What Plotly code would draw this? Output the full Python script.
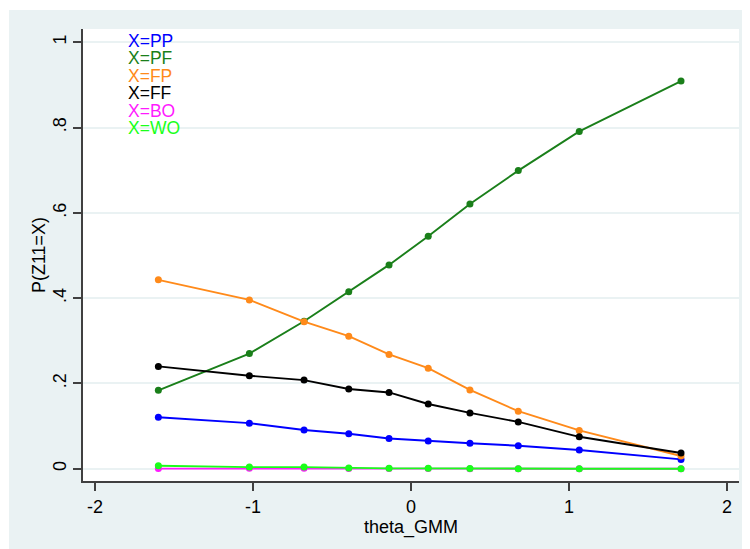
import plotly.graph_objects as go

theta = [-1.599, -1.023, -0.677, -0.394, -0.139, 0.109, 0.373, 0.679, 1.065, 1.709]
p_PP = [0.121, 0.107, 0.091, 0.082, 0.071, 0.065, 0.060, 0.054, 0.044, 0.022]
p_PF = [0.184, 0.270, 0.346, 0.415, 0.478, 0.545, 0.621, 0.699, 0.791, 0.909]
p_FP = [0.443, 0.396, 0.345, 0.311, 0.268, 0.236, 0.185, 0.135, 0.090, 0.030]
p_FF = [0.240, 0.218, 0.208, 0.187, 0.179, 0.152, 0.131, 0.110, 0.075, 0.037]
p_BO = [0.0005, 0.001, 0.001, 0.0005, 0.0005, 0.0005, 0.0003, 0.0002, 0.0001, 0.0001]
p_WO = [0.007, 0.004, 0.004, 0.002, 0.001, 0.001, 0.0005, 0.0003, 0.0002, 0.0001]

series_names = ["X=PP", "X=PF", "X=FP", "X=FF", "X=BO", "X=WO"]
series_vals = [p_PP, p_PF, p_FP, p_FF, p_BO, p_WO]
colors = ["#0000FF", "#1A7F1A", "#FF8A1A", "#000000", "#FF1AFF", "#1AFF1A"]

y_ticks = [0, 0.2, 0.4, 0.6, 0.8, 1.0]
y_ticktext = ["0", ".2", ".4", ".6", ".8", "1"]
x_ticks = [-2, -1, 0, 1, 2]
x_ticktext = ["-2", "-1", "0", "1", "2"]

FONT = "Liberation Sans, Arial, sans-serif"
BG = "#EAF2F3"

fig = go.Figure()
for name, vals, col in zip(series_names, series_vals, colors):
    fig.add_trace(go.Scatter(
        x=theta, y=vals, mode="lines+markers", name=name,
        line=dict(color=col, width=1.9),
        marker=dict(color=col, size=7),
        showlegend=False,
    ))

# legend as coloured text
for i, (name, col) in enumerate(zip(series_names, colors)):
    fig.add_annotation(
        xref="paper", yref="paper",
        x=(126 - 83) / 656, y=1 - (41 - 29 + i * 17.4) / 452.5,
        xanchor="left", yanchor="middle",
        text=name, showarrow=False,
        font=dict(family=FONT, size=17.5, color=col),
    )

# thin white strips at top and left (outside graph region)
fig.add_shape(type="rect", xref="paper", yref="paper",
              x0=-0.2, x1=1.1, y0=1 + 19 / 452.5, y1=1.2,
              fillcolor="white", line=dict(width=0), layer="above")
fig.add_shape(type="rect", xref="paper", yref="paper",
              x0=-0.2, x1=(9 - 83) / 656, y0=-0.3, y1=1.2,
              fillcolor="white", line=dict(width=0), layer="above")

fig.update_layout(
    width=750, height=549,
    margin=dict(l=75, r=19, t=21, b=75.5, autoexpand=False),
    paper_bgcolor=BG, plot_bgcolor="white",
    font=dict(family=FONT, size=18, color="#000000"),
    showlegend=False,
)
fig.update_xaxes(
    range=[-2.076, 2.076], tickvals=x_ticks, ticktext=x_ticktext,
    showgrid=False, zeroline=False, automargin=False,
    showline=True, linecolor="#404040", linewidth=1.5,
    ticks="outside", ticklen=8, tickcolor="#404040", tickwidth=1.5,
    tickfont=dict(size=18), ticklabelstandoff=1,
    title=dict(text="theta_GMM", font=dict(size=18), standoff=0),
)
fig.update_yaxes(
    range=[-0.0286, 1.031], tickvals=y_ticks, ticktext=y_ticktext,
    tickangle=-90, automargin=False,
    showgrid=True, gridcolor=BG, gridwidth=1.5, zeroline=False,
    showline=True, linecolor="#404040", linewidth=1.5,
    ticks="outside", ticklen=8, tickcolor="#404040", tickwidth=1.5,
    tickfont=dict(size=18), ticklabelstandoff=0,
    title=dict(text="P(Z11=X)", font=dict(size=18), standoff=0),
)

fig.write_html("out.html")
